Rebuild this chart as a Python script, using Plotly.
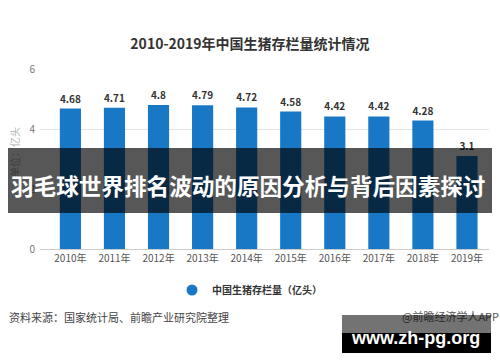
import plotly.graph_objects as go

years = ["2010年", "2011年", "2012年", "2013年", "2014年", "2015年", "2016年", "2017年", "2018年", "2019年"]
values = [4.68, 4.71, 4.8, 4.79, 4.72, 4.58, 4.42, 4.42, 4.28, 3.1]
y_ticks = [0, 2, 4, 6]
series_name = "中国生猪存栏量（亿头）"
title_text = "2010-2019年中国生猪存栏量统计情况"
banner_text = "羽毛球世界排名波动的原因分析与背后因素探讨"
source_text = "资料来源：国家统计局、前瞻产业研究院整理"
brand_text = "@前瞻经济学人APP"
site_text = "www.zh-pg.org"
unit_text = "单位：亿头"

W, H = 500, 362
L, R, T, B = 40, 11, 69, 113
PW, PH = W - L - R, H - T - B

def px(x):
    return (x - L) / PW

def py(y):
    return (H - B - y) / PH

BLUE = "#1878c6"
CJK = "Noto Sans CJK SC"

fig = go.Figure()
fig.add_trace(go.Bar(
    x=list(range(len(years))), y=values, width=0.48,
    marker=dict(color=BLUE, line=dict(width=0)),
    text=[f"{v:g}" for v in values], textposition="outside",
    textfont=dict(family=CJK, size=10, color="#333333"),
    texttemplate="<b>%{text}</b>", cliponaxis=False,
    showlegend=False, hoverinfo="skip",
))
fig.add_trace(go.Scatter(
    x=[None], y=[None], mode="markers", name="<b>" + series_name + "</b>",
    marker=dict(size=11, color=BLUE), showlegend=True,
))

def ann(**kw):
    base = dict(xref="paper", yref="paper", showarrow=False, xanchor="center", yanchor="middle")
    base.update(kw)
    return base

annotations = [
    ann(text=unit_text, x=px(14), y=py(152), textangle=-90,
        font=dict(family=CJK, size=10, color="#b0b0b0")),
    ann(text=" ", x=px(250), y=py(180.5), width=484, height=65,
        bgcolor="rgba(0,0,0,0.66)", borderpad=0, borderwidth=0),
    ann(text="<b>" + banner_text + "</b>", x=px(248), y=py(185),
        font=dict(family=CJK, size=22.6, color="white")),
    ann(text=source_text, x=px(7), y=py(317), xanchor="left",
        font=dict(family=CJK, size=11, color="#444444")),
    ann(text=brand_text, x=px(400), y=py(316), xanchor="left",
        font=dict(family=CJK, size=11, color="#555555")),
    ann(text=" ", x=px(416.5), y=py(324), width=149, height=18,
        bgcolor="rgba(0,0,0,0.55)", borderpad=0, borderwidth=0),
    ann(text=" ", x=px(416.5), y=py(343), width=149, height=20,
        bgcolor="black", borderpad=0, borderwidth=0),
    ann(text="<b>" + site_text + "</b>", x=px(415), y=py(338),
        font=dict(family="Liberation Sans", size=18, color="white")),
]

fig.update_layout(
    width=W, height=H,
    margin=dict(l=L, r=R, t=T, b=B, autoexpand=False),
    paper_bgcolor="white", plot_bgcolor="white",
    title=dict(text="<b>" + title_text + "</b>", x=0.5, xanchor="center",
               y=1 - 44 / H, yanchor="middle", font=dict(family=CJK, size=14, color="#333333")),
    xaxis=dict(range=[-0.69, 9.5], tickmode="array", tickvals=list(range(len(years))),
               ticktext=years, showgrid=False, showline=True, linecolor="#cccccc",
               tickfont=dict(family=CJK, size=10, color="#555555"), ticks="", zeroline=False),
    yaxis=dict(range=[0, 6], tickvals=y_ticks, showgrid=True, gridcolor="#e3e3e3",
               zeroline=False, ticks="", tickfont=dict(family=CJK, size=10, color="#777777"),
               ticklabelstandoff=4),
    legend=dict(orientation="h", x=px(172), xanchor="left", y=py(290), yanchor="middle",
                font=dict(family=CJK, size=10, color="#333333"), itemwidth=30),
    annotations=annotations,
)
fig.write_html("out.html", config={"displayModeBar": False},
               post_script="document.body.style.margin='0';")
